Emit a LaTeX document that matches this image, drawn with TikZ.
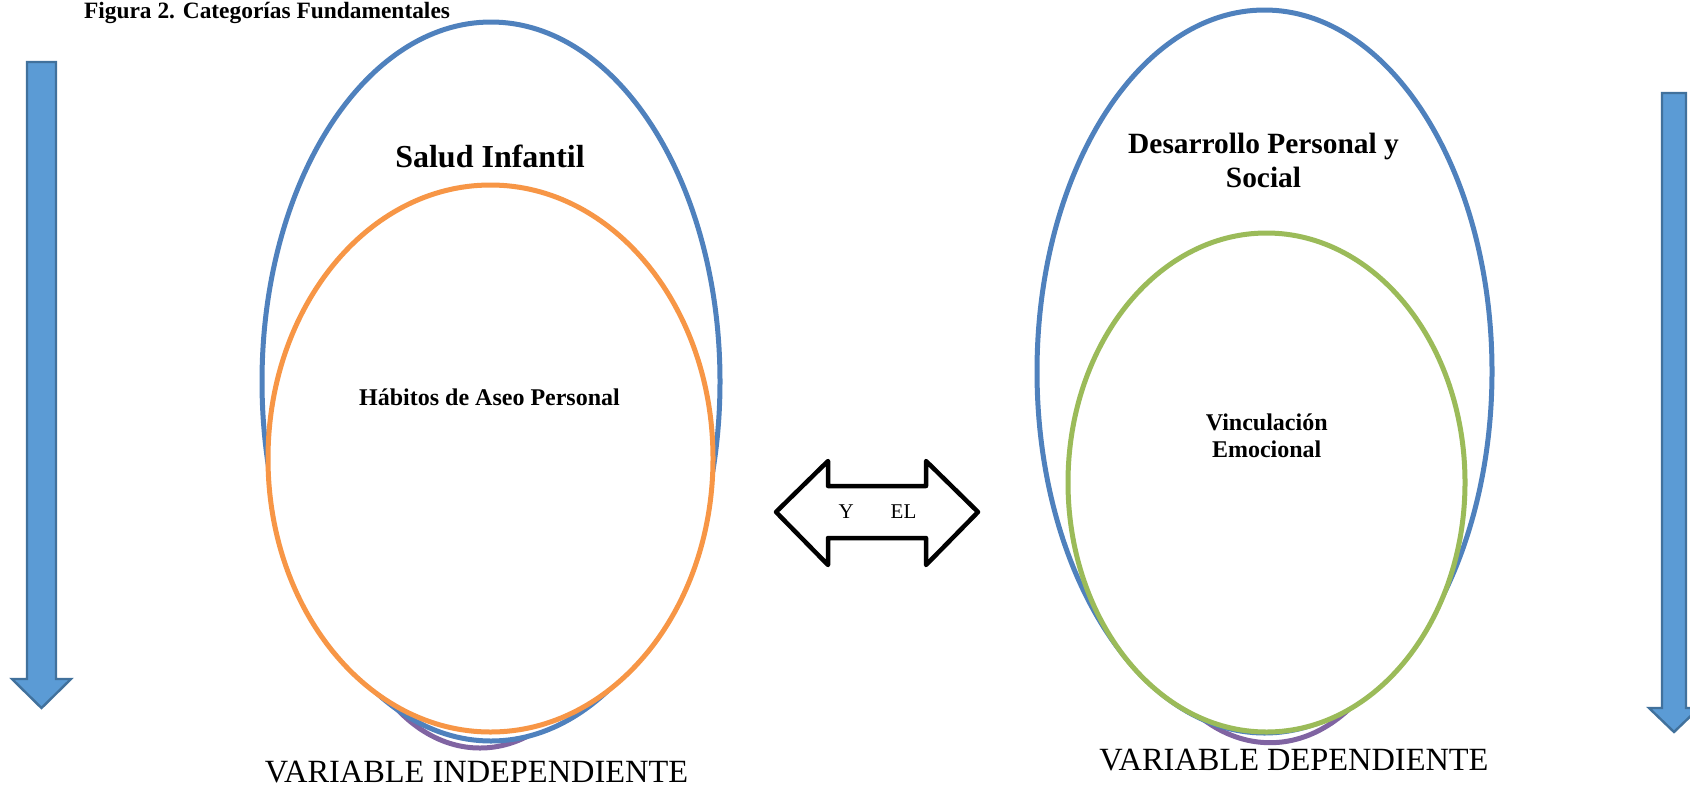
\documentclass[tikz,border=0pt]{standalone}
\usepackage{fontspec}
\setmainfont{Liberation Serif}
\usetikzlibrary{shapes.geometric}

\definecolor{ringblue}{HTML}{4F81BD}
\definecolor{ringorange}{HTML}{F79646}
\definecolor{ringpurple}{HTML}{8064A2}
\definecolor{ringgreen}{HTML}{9BBB59}
\definecolor{flowfill}{HTML}{5B9BD5}
\definecolor{flowdraw}{HTML}{41719C}

\begin{document}
\begin{tikzpicture}[font=\fontsize{12}{14}\selectfont] % all positions in pt, origin at the top left corner
\tikzstyle{ring} = [ellipse, draw, line width=2.5pt, fill=white, inner sep=0pt]
\tikzstyle{flow} = [fill=flowfill, draw=flowdraw, line width=1.2pt]
\tikzstyle{link} = [draw=black, fill=white, line width=2.25pt, line join=round]
\tikzstyle{boldtext} = [font=\bfseries\fontsize{12}{14}\selectfont, align=center]
\tikzstyle{bigtext} = [font=\bfseries\fontsize{16}{19}\selectfont, align=center]
\tikzstyle{varlabel} = [font=\fontsize{16.2}{19}\selectfont]

\useasboundingbox (0pt,0pt) rectangle (845pt,-394pt);

% Title
\node[boldtext, font=\bfseries\fontsize{11.7}{14}\selectfont, anchor=base west] (Title) at (38.5pt,-9.15pt) {Figura 2. Categorías Fundamentales};

% Side arrows
\draw[flow] (13.5pt,-31pt) -- (28pt,-31pt) -- (28pt,-339.5pt) -- (35.5pt,-339.5pt) -- (20.75pt,-354pt)
  -- (6pt,-339.5pt) -- (13.5pt,-339.5pt) -- cycle;
\draw[flow] (831pt,-46.5pt) -- (843pt,-46.5pt) -- (843pt,-354pt) -- (849.5pt,-354pt) -- (837pt,-366pt)
  -- (824.5pt,-354pt) -- (831pt,-354pt) -- cycle;

% Independent variable
\node[ring, draw=ringpurple, minimum width=140pt, minimum height=200pt] (PurpleLeft) at (240pt,-274pt) {};
\node[ring, draw=ringblue, minimum width=229pt, minimum height=359.5pt] (Salud) at (245.5pt,-190.75pt) {};
\node[ring, draw=ringorange, minimum width=222.5pt, minimum height=273.5pt] (Habitos) at (245.25pt,-229.25pt) {};

\node[bigtext, anchor=base] (SaludText) at (245pt,-83.5pt) {Salud Infantil};
\node[boldtext, anchor=base] (HabitosText) at (244.75pt,-202.85pt) {Hábitos de Aseo Personal};
\node[varlabel, anchor=base] (Independiente) at (238.25pt,-391pt) {VARIABLE INDEPENDIENTE};

% Dependent variable
\node[ring, draw=ringpurple, minimum width=150pt, minimum height=224pt] (PurpleRight) at (635pt,-259.35pt) {};
\node[ring, draw=ringblue, minimum width=227.5pt, minimum height=361.5pt] (Desarrollo) at (632.25pt,-185.75pt) {};
\node[ring, draw=ringgreen, minimum width=198.5pt, minimum height=249.5pt] (Vinculo) at (633.25pt,-241.25pt) {};

% base anchor of a two line node sits on its last line
\node[boldtext, font=\bfseries\fontsize{14.7}{17}\selectfont, anchor=base] (DesarrolloText) at (631.75pt,-93.5pt) {Desarrollo Personal y\\Social};
\node[boldtext, font=\bfseries\fontsize{12}{13.8}\selectfont, anchor=base] (VinculoText) at (633.35pt,-228.85pt) {Vinculación\\Emocional};
\node[varlabel, anchor=base] (Dependiente) at (647pt,-385.35pt) {VARIABLE DEPENDIENTE};

% Link between both
\draw[link] (388pt,-256pt) -- (414pt,-230.5pt) -- (414pt,-243pt) -- (463pt,-243pt) -- (463pt,-230.5pt)
  -- (489pt,-256pt) -- (463pt,-282.5pt) -- (463pt,-269pt) -- (414pt,-269pt) -- (414pt,-282.5pt) -- cycle;
\node[font=\fontsize{10.5}{12}\selectfont] (Link) at (438.75pt,-256pt) {Y\hspace{18.5pt}EL};

\end{tikzpicture}
\end{document}
